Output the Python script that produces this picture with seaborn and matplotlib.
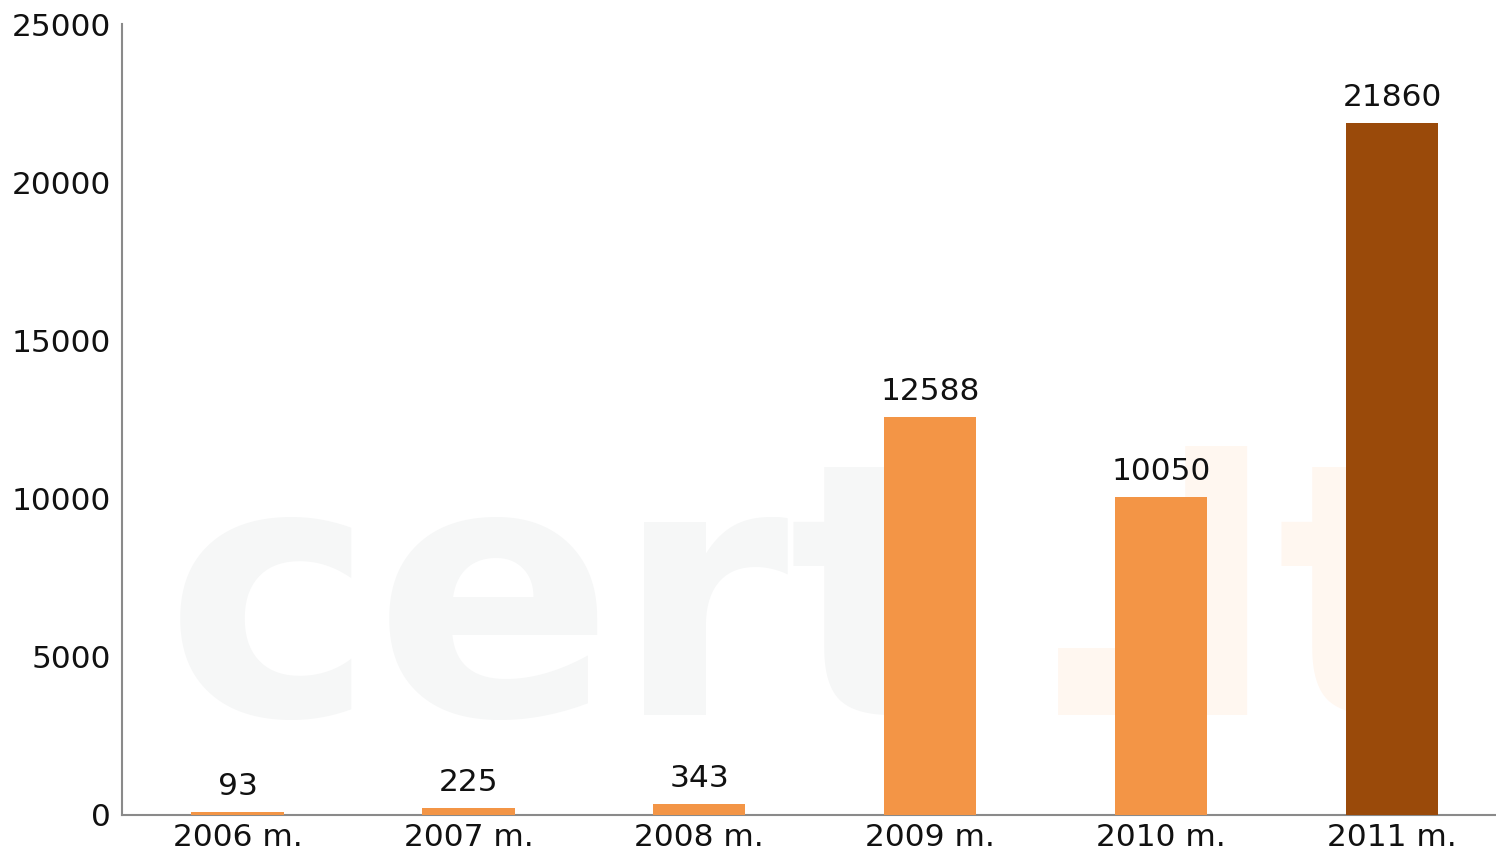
import matplotlib
matplotlib.use("Agg")
import matplotlib.pyplot as plt
import seaborn as sns
import pandas as pd

# data
years = ["2006 m.", "2007 m.", "2008 m.", "2009 m.", "2010 m.", "2011 m."]
values = [93, 225, 343, 12588, 10050, 21860]
bar_colors = ["#F39546", "#F39546", "#F39546", "#F39546", "#F39546", "#9A4A0A"]
y_ticks = [0, 5000, 10000, 15000, 20000, 25000]

df = pd.DataFrame({"year": years, "count": values})

sns.set_style("white")
plt.rcParams["font.family"] = ["DejaVu Sans"]

fig = plt.figure(figsize=(14.96, 8.56), dpi=100)
ax = fig.add_axes([122 / 1496, 1 - 815 / 856, 1 - 122 / 1496, (815 - 24) / 856])

sns.barplot(data=df, x="year", y="count", hue="year", palette=bar_colors,
            legend=False, width=0.4, saturation=1, linewidth=0, ax=ax, zorder=3)

# faint watermark in the background
ax.text(0.031, 0.126, "cert", transform=ax.transAxes, fontsize=255, fontweight="bold",
        color="#f6f7f7", zorder=0, va="baseline")
ax.text(0.655, 0.126, ".lt", transform=ax.transAxes, fontsize=255, fontweight="bold",
        color="#fff7f0", zorder=0, va="baseline")

for i, v in enumerate(values):
    ax.annotate(str(v), (i, v), xytext=(0, 8), textcoords="offset points",
                ha="center", va="bottom", fontsize=22.5, color="#111111", zorder=4)

ax.set_xlim(-0.5, 5.45)
ax.set_ylim(0, 25000)
ax.set_yticks(y_ticks)
ax.set_yticklabels([str(t) for t in y_ticks])
ax.set_xlabel("")
ax.set_ylabel("")
ax.tick_params(axis="both", length=0, labelsize=22.5, labelcolor="#111111", pad=8)
ax.tick_params(axis="x", pad=6)

sns.despine(ax=ax)
for side in ["left", "bottom"]:
    ax.spines[side].set_color("#8a8a8a")
    ax.spines[side].set_linewidth(1.5)

fig.savefig("out.png", dpi=100)
